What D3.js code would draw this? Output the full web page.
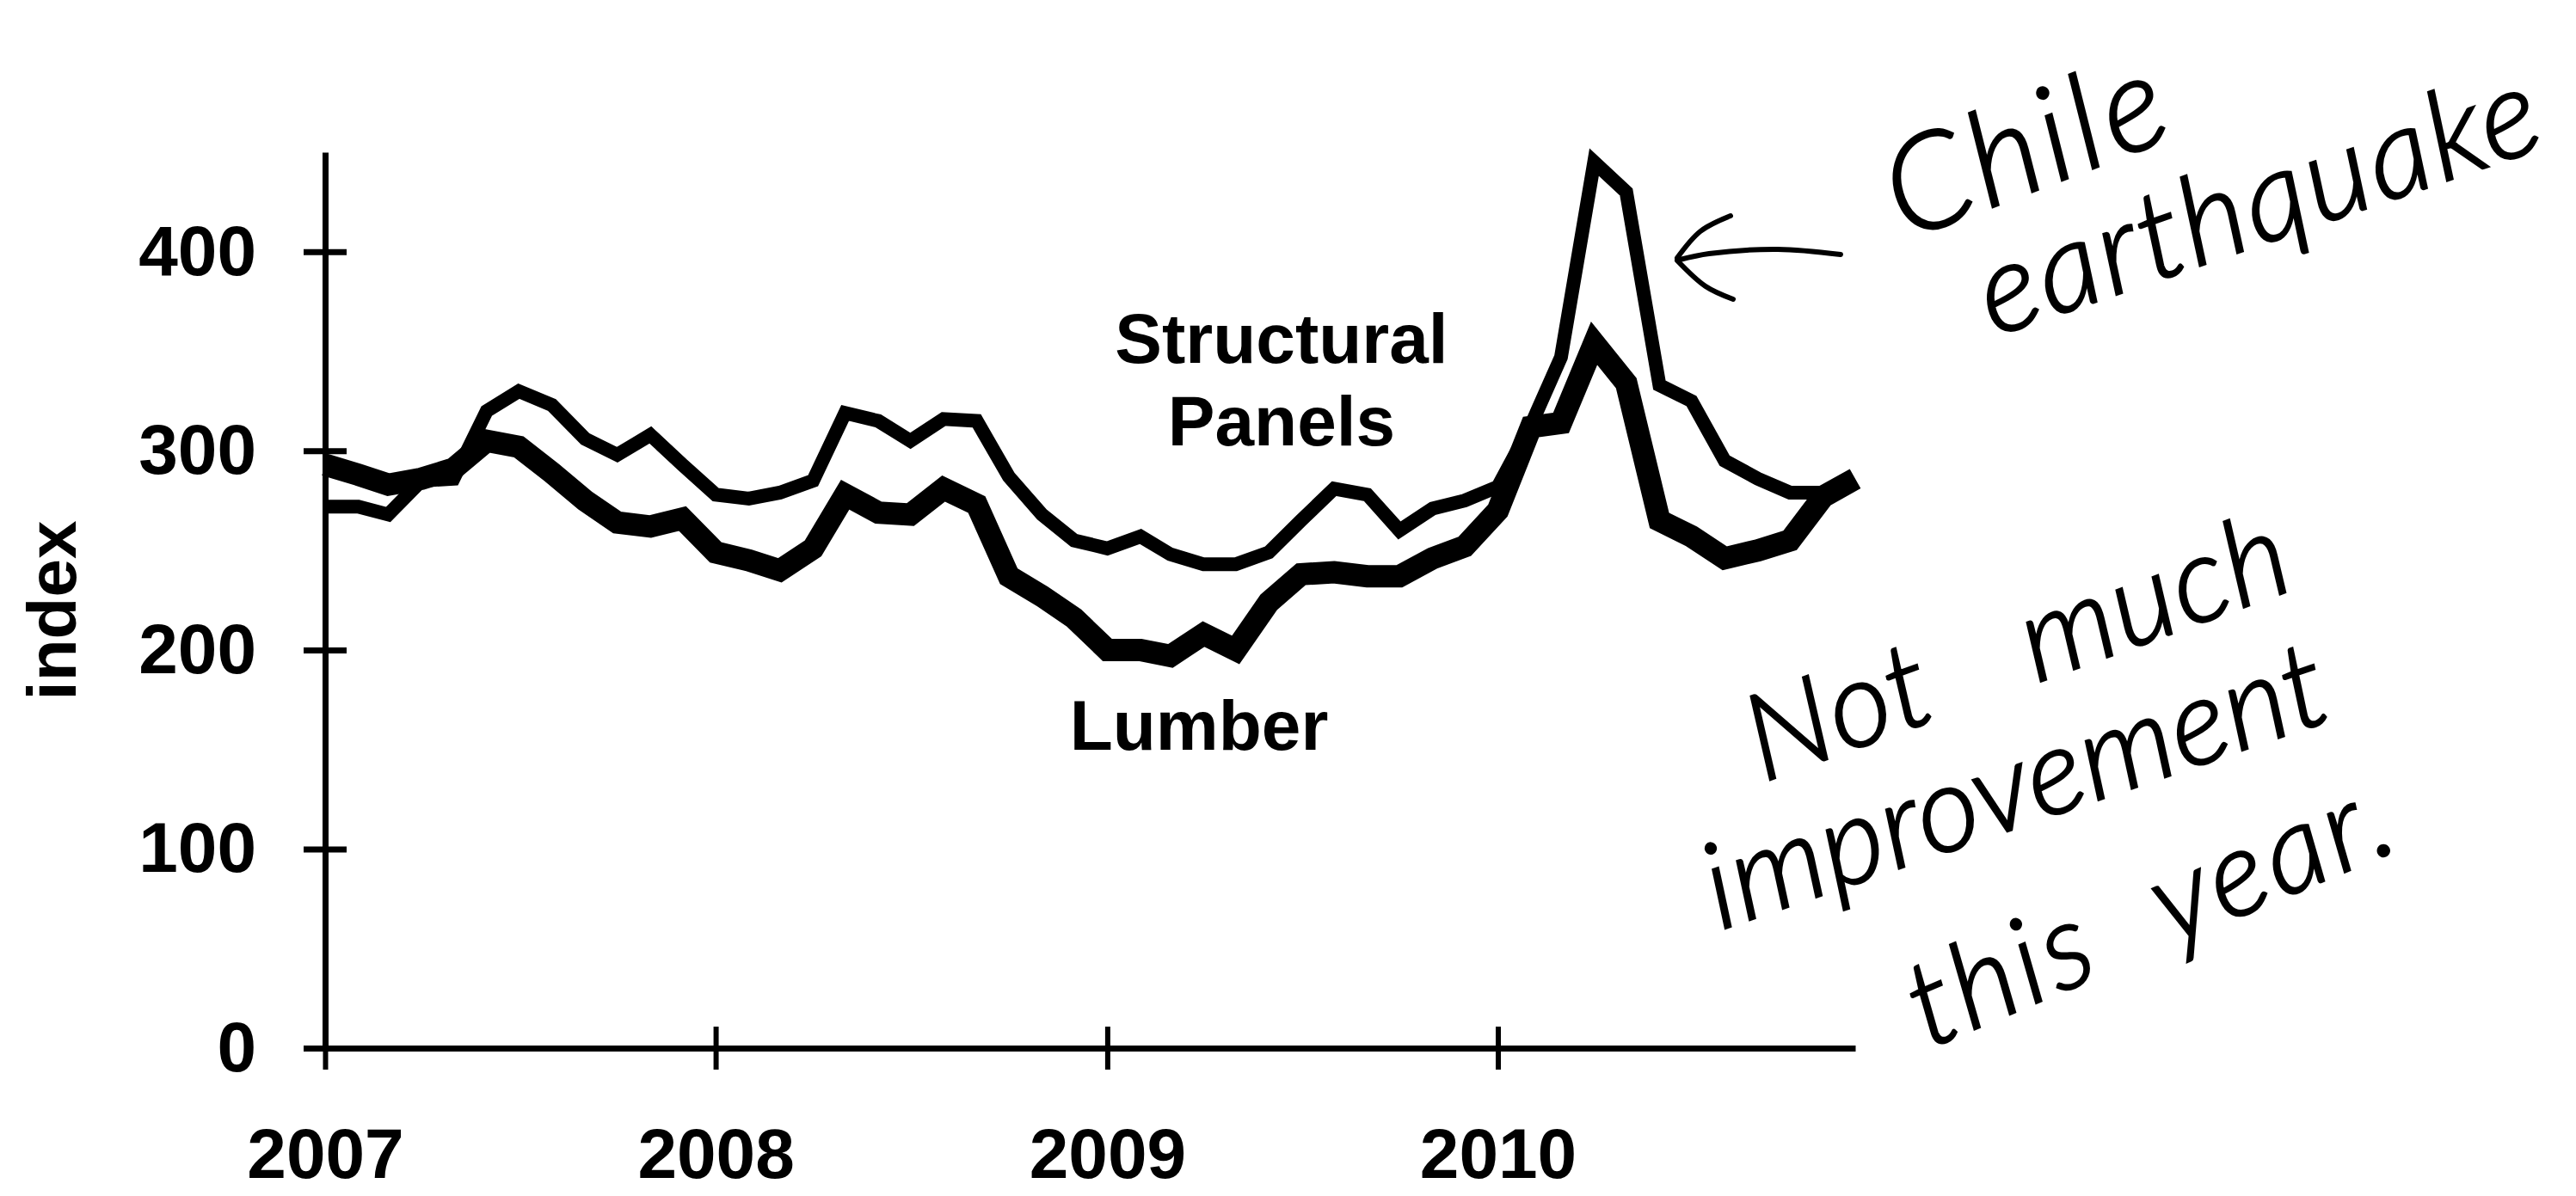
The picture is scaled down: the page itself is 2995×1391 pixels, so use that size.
<!DOCTYPE html>
<html>
<head>
<meta charset="utf-8">
<script src="https://cdn.jsdelivr.net/npm/d3@7.9.0/dist/d3.min.js"></script>
<style>
  body { margin: 0; background: #fff; }
  svg { display: block; background: #fff; }
  .axis text, .label { font-family: "Liberation Sans", Arial, sans-serif; font-weight: bold; fill: #000; }
  .axis text { font-size: 82px; }
  .hand { font-family: Lato, "Open Sans", sans-serif; font-style: italic; font-weight: 300; fill: #000; stroke: #000; stroke-width: 2.5; }
</style>
</head>
<body>
<svg id="chart" width="2995" height="1391"></svg>
<script>
// monthly index values, Jan 2007 - Dec 2010
const years = ['2007', '2008', '2009', '2010'];
const yTicks = [0, 100, 200, 300, 400];
const months = d3.timeMonth.range(new Date(2007, 0, 1), new Date(2011, 0, 1));

const structural = [
  272, 272, 268, 285, 286, 320, 330, 323, 306, 298, 308, 293,
  278, 276, 279, 285, 319, 315, 305, 316, 315, 287, 268, 255,
  251, 257, 248, 243, 243, 249, 265, 281, 278, 260, 271, 275,
  282, 313, 347, 445, 430, 333, 325, 295, 286, 279, 279, 284
];
const lumber = [
  293, 288, 283, 286, 291, 305, 302, 289, 275, 264, 262, 266,
  249, 245, 240, 251, 278, 269, 268, 281, 273, 237, 227, 216,
  200, 200, 197, 208, 200, 224, 238, 239, 237, 237, 246, 252,
  270, 312, 314, 354, 334, 265, 257, 246, 250, 255, 277, 286
];

const svg = d3.select('#chart');

let x = d3.scaleTime()
  .domain([months[0], months[months.length - 1]])
  .range([378, 2157]);
let y = d3.scaleLinear().domain([0, 450]).range([1219, 177]);

// x axis, ticks crossing the line
let xAxis = svg.append('g')
  .attr('class', 'axis')
  .attr('transform', `translate(0,${y(0)})`)
  .call(d3.axisBottom(x)
    .tickValues(years.map((yr) => new Date(+yr, 0, 1)))
    .tickFormat((d, i) => years[i])
    .tickSize(0)
    .tickPadding(93));
xAxis.select('.domain').attr('stroke', '#000').attr('stroke-width', 7);
xAxis.selectAll('.tick line').attr('y1', -25).attr('y2', 25)
  .attr('stroke', '#000').attr('stroke-width', 6);

// y axis
let yAxis = svg.append('g')
  .attr('class', 'axis')
  .attr('transform', `translate(${x(months[0])},0)`)
  .call(d3.axisLeft(y)
    .tickValues(yTicks)
    .tickSize(0)
    .tickPadding(80));
yAxis.select('.domain').attr('stroke', '#000').attr('stroke-width', 7);
yAxis.selectAll('.tick line').attr('x1', -25).attr('x2', 25)
  .attr('stroke', '#000').attr('stroke-width', 7);

svg.append('text')
  .attr('class', 'label')
  .attr('transform', 'translate(88,710) rotate(-90)')
  .attr('text-anchor', 'middle')
  .attr('font-size', 80)
  .text('index');

let line = d3.line()
  .x((d, i) => x(months[i]))
  .y((d) => y(d));

svg.append('path')
  .datum(structural)
  .attr('d', line)
  .attr('fill', 'none')
  .attr('stroke', '#000')
  .attr('stroke-width', 16)
  .attr('stroke-linejoin', 'miter');

svg.append('path')
  .datum(lumber)
  .attr('d', line)
  .attr('fill', 'none')
  .attr('stroke', '#000')
  .attr('stroke-width', 26)
  .attr('stroke-linejoin', 'miter');

// series labels
svg.append('text').attr('class', 'label').attr('font-size', 82)
  .attr('x', 1490).attr('y', 422).attr('text-anchor', 'middle').text('Structural');
svg.append('text').attr('class', 'label').attr('font-size', 82)
  .attr('x', 1490).attr('y', 518).attr('text-anchor', 'middle').text('Panels');
svg.append('text').attr('class', 'label').attr('font-size', 82)
  .attr('x', 1394).attr('y', 872).attr('text-anchor', 'middle').text('Lumber');

// handwritten notes
let notes = [
  {text: 'Chile', x: 2215, y: 280, rot: -21, size: 154, ls: 6, ws: 0},
  {text: 'earthquake', x: 2318, y: 392, rot: -19, size: 144, ls: 3, ws: 0},
  {text: 'Not much', x: 2050, y: 910, rot: -20, size: 140, ls: 2, ws: 80},
  {text: 'improvement', x: 2000, y: 1082, rot: -19, size: 140, ls: 1, ws: 0},
  {text: 'this year.', x: 2242, y: 1220, rot: -23, size: 140, ls: 5, ws: 45}
];
notes.forEach((n) => {
  svg.append('text')
    .attr('class', 'hand')
    .attr('font-size', n.size)
    .attr('letter-spacing', n.ls)
    .attr('word-spacing', n.ws)
    .attr('transform', `translate(${n.x},${n.y}) rotate(${n.rot})`)
    .text(n.text);
});

// arrow pointing at the spike
let pen = d3.line().curve(d3.curveCatmullRom);
let arrowParts = [
  [[2140, 296], [2067, 290], [1987, 295], [1953, 302]],
  [[1950, 300], [1977, 269], [2012, 251]],
  [[1950, 303], [1983, 333], [2015, 348]]
];
arrowParts.forEach((pts) => {
  svg.append('path')
    .attr('d', pen(pts))
    .attr('fill', 'none')
    .attr('stroke', '#000')
    .attr('stroke-width', 6)
    .attr('stroke-linecap', 'round');
});
</script>
</body>
</html>
